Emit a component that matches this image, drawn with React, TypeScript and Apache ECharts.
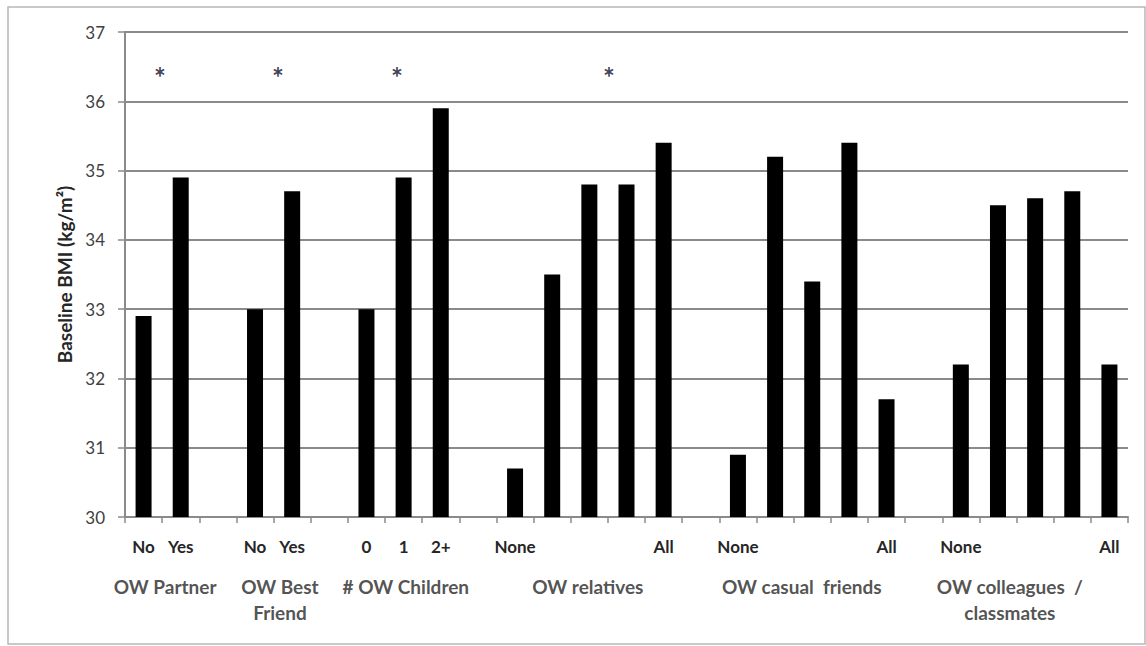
import React, { useEffect, useRef } from "react";
import * as echarts from "echarts";

const categories = ["No", "Yes", "", "No", "Yes", "", "0", "1", "2+", "", "None", "", "", "", "All", "", "None", "", "", "", "All", "", "None", "", "", "", "All"];
const bmiValues = [32.9, 34.9, null, 33.0, 34.7, null, 33.0, 34.9, 35.9, null, 30.7, 33.5, 34.8, 34.8, 35.4, null, 30.9, 35.2, 33.4, 35.4, 31.7, null, 32.2, 34.5, 34.6, 34.7, 32.2];
const groupLabels = ["OW Partner", "OW Best\nFriend", "# OW Children", "OW relatives", "OW casual  friends", "OW colleagues  /\nclassmates"];
const groupCenters = [1.08, 4.17, 7.56, 12.46, 18.22, 23.82];
const asteriskX = [0.94, 4.12, 7.32, 13.03];
const asteriskY = 36.45;
const yMin = 30;
const yMax = 37;

const FONT = "Lato, 'Open Sans', sans-serif";

export default function App() {
  const ref = useRef<HTMLDivElement>(null);
  useEffect(() => {
    if (!ref.current) return;
    const chart = echarts.init(ref.current, null, { renderer: "svg" });
    chart.setOption({
      animation: false,
      backgroundColor: "#ffffff",
      graphic: [
        {
          type: "rect",
          shape: { x: 8, y: 7, width: 1137, height: 637 },
          style: { fill: "none", stroke: "#b8b8b8", lineWidth: 1.5 },
          silent: true,
        },
      ],
      grid: { left: 125, right: 18, top: 32, bottom: 129, containLabel: false },
      xAxis: [
        {
          type: "category",
          data: categories,
          boundaryGap: true,
          axisLine: { show: true, lineStyle: { color: "#8a8a8a", width: 2 } },
          axisTick: { show: true, alignWithLabel: false, interval: 0, length: 6, lineStyle: { color: "#8a8a8a", width: 1.5 } },
          axisLabel: { interval: 0, margin: 21, fontSize: 17, fontFamily: FONT, fontWeight: "bold", color: "#262626" },
          splitLine: { show: false },
        },
        {
          type: "value",
          min: 0,
          max: categories.length,
          show: false,
        },
      ],
      yAxis: {
        type: "value",
        min: yMin,
        max: yMax,
        interval: 1,
        name: "Baseline BMI (kg/m²)",
        nameLocation: "middle",
        nameGap: 51,
        nameTextStyle: { fontSize: 19, fontFamily: FONT, fontWeight: "bold", color: "#262626" },
        axisLine: { show: true, lineStyle: { color: "#8a8a8a", width: 2 } },
        axisTick: { show: true, length: 7, lineStyle: { color: "#8a8a8a", width: 1.5 } },
        axisLabel: { margin: 20, fontSize: 17, fontFamily: FONT, color: "#404040" },
        splitLine: { show: true, lineStyle: { color: "#8a8a8a", width: 2 } },
      },
      series: [
        {
          type: "bar",
          data: bmiValues,
          barWidth: 16,
          itemStyle: { color: "#000000" },
          xAxisIndex: 0,
          yAxisIndex: 0,
        },
        {
          type: "scatter",
          xAxisIndex: 1,
          yAxisIndex: 0,
          symbolSize: 1,
          itemStyle: { color: "transparent" },
          data: asteriskX.map((x) => [x, asteriskY]),
          label: {
            show: true,
            position: "inside",
            formatter: "*",
            fontSize: 28,
            fontWeight: "bold",
            fontFamily: FONT,
            color: "#0d0d2b",
            offset: [0, 7],
          },
          silent: true,
        },
        {
          type: "scatter",
          xAxisIndex: 1,
          yAxisIndex: 0,
          symbolSize: 1,
          itemStyle: { color: "transparent" },
          data: groupCenters.map((x, i) => ({ value: [x, yMin], name: groupLabels[i] })),
          label: {
            show: true,
            position: "bottom",
            distance: 56,
            formatter: (p: any) => p.name,
            fontSize: 19,
            lineHeight: 26,
            fontWeight: "bold",
            fontFamily: FONT,
            color: "#262626",
            align: "center",
          },
          silent: true,
        },
      ],
    });
    return () => chart.dispose();
  }, []);
  return (
    <div
      ref={ref}
      style={{ position: "fixed", left: 0, top: 0, width: 1146, height: 646 }}
    />
  );
}
